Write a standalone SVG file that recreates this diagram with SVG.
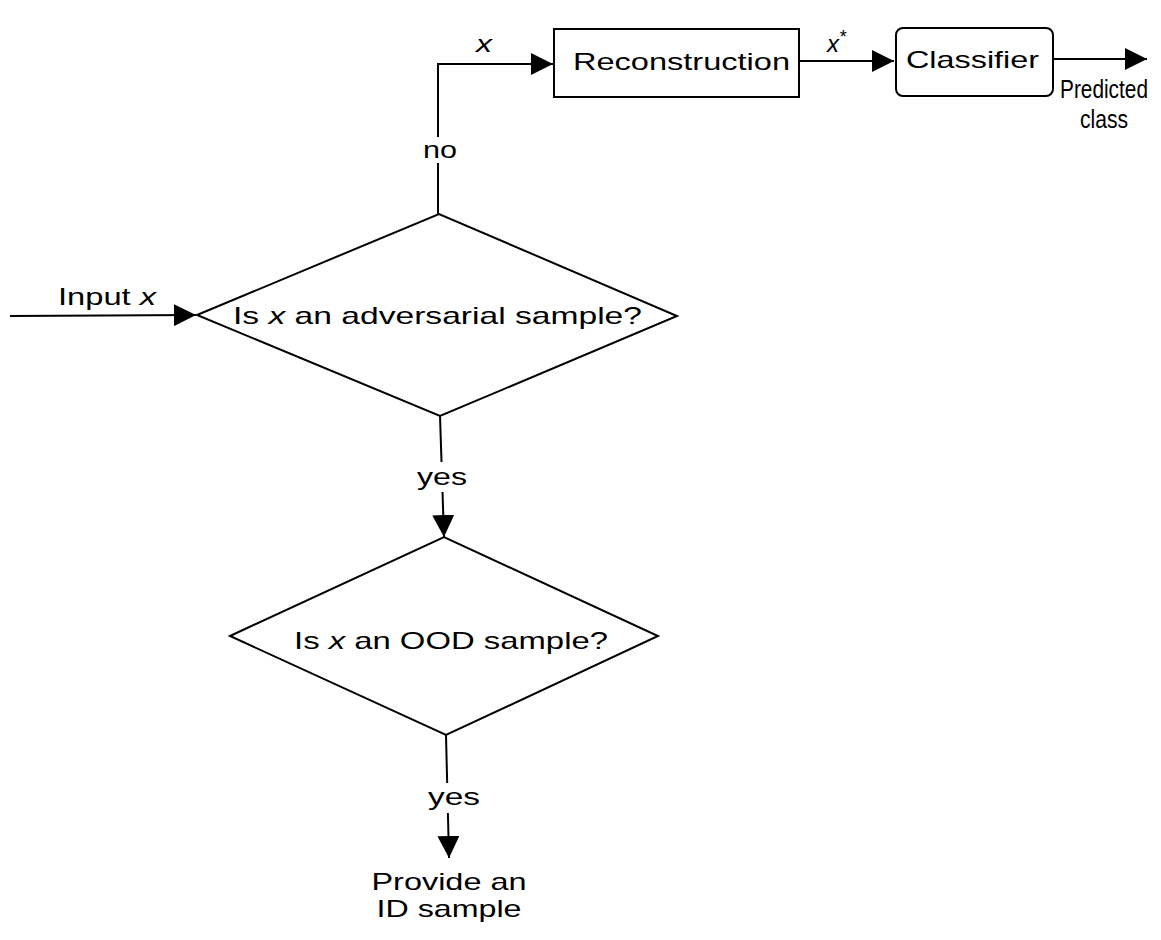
<svg xmlns="http://www.w3.org/2000/svg" width="1161" height="940" viewBox="0 0 1161 940">
<style>
text{font-family:"Liberation Sans",Arial,sans-serif;font-size:24px;fill:#000}
.it{font-style:italic}
.narrow{font-family:"Liberation Sans Narrow","Arial Narrow","Liberation Sans",sans-serif;font-size:25px}
.shape{fill:#fff;stroke:#000;stroke-width:2}
.conn{fill:none;stroke:#000;stroke-width:2}
</style>
<defs>
<marker id="arr" markerWidth="22" markerHeight="22" viewBox="0 0 22 22" refX="22" refY="11" orient="auto" markerUnits="userSpaceOnUse">
<path d="M0,0 L22,11 L0,22 Z" fill="#000"/>
</marker>
</defs>
<rect width="1161" height="940" fill="#fff"/>
<g id="connectors">
<polyline class="conn" points="10,316 196,315" marker-end="url(#arr)"/>
<polyline class="conn" points="438,214 438,64 553,64" marker-end="url(#arr)"/>
<line class="conn" x1="799" y1="61" x2="894" y2="61" marker-end="url(#arr)"/>
<line class="conn" x1="1053" y1="59" x2="1147" y2="59" marker-end="url(#arr)"/>
<line class="conn" x1="440" y1="416" x2="444" y2="537" marker-end="url(#arr)"/>
<line class="conn" x1="446" y1="735" x2="449" y2="858" marker-end="url(#arr)"/>
<rect x="418" y="137" width="40" height="26" fill="#fff"/>
<rect x="414" y="462" width="56" height="30" fill="#fff"/>
<rect x="425" y="783" width="58" height="30" fill="#fff"/>
<text x="440" y="158" text-anchor="middle" textLength="34" lengthAdjust="spacingAndGlyphs">no</text>
<text x="442" y="485" text-anchor="middle" textLength="50" lengthAdjust="spacingAndGlyphs">yes</text>
<text x="454" y="805" text-anchor="middle" textLength="52" lengthAdjust="spacingAndGlyphs">yes</text>
<text x="58" y="305" textLength="98" lengthAdjust="spacingAndGlyphs">Input <tspan class="it">x</tspan></text>
<text x="476" y="52" class="it" textLength="16" lengthAdjust="spacingAndGlyphs">x</text>
<text x="827" y="52" class="it">x<tspan dy="-9" style="font-size:18px">*</tspan></text>
<text x="1104" y="98" text-anchor="middle" class="narrow" textLength="88" lengthAdjust="spacingAndGlyphs">Predicted</text>
<text x="1104" y="128" text-anchor="middle" class="narrow" textLength="48" lengthAdjust="spacingAndGlyphs">class</text>
</g>
<g id="reconstruction">
<rect class="shape" x="554" y="29" width="245" height="68"/>
<text x="573" y="70" textLength="217" lengthAdjust="spacingAndGlyphs">Reconstruction</text>
</g>
<g id="classifier">
<rect class="shape" x="896" y="28" width="157" height="68" rx="7" ry="7"/>
<text x="906" y="68" textLength="133" lengthAdjust="spacingAndGlyphs">Classifier</text>
</g>
<g id="adversarial">
<polygon class="shape" points="197,315 439,214 677,316 440,416"/>
<text x="233" y="324" textLength="409" lengthAdjust="spacingAndGlyphs">Is <tspan class="it">x</tspan> an adversarial sample?</text>
</g>
<g id="ood">
<polygon class="shape" points="230,636 444,537 658,636 446,735"/>
<text x="294" y="649" textLength="314" lengthAdjust="spacingAndGlyphs">Is <tspan class="it">x</tspan> an OOD sample?</text>
</g>
<g id="output">
<text x="449" y="890" text-anchor="middle" textLength="155" lengthAdjust="spacingAndGlyphs">Provide an</text>
<text x="449" y="917" text-anchor="middle" textLength="145" lengthAdjust="spacingAndGlyphs">ID sample</text>
</g>
</svg>
